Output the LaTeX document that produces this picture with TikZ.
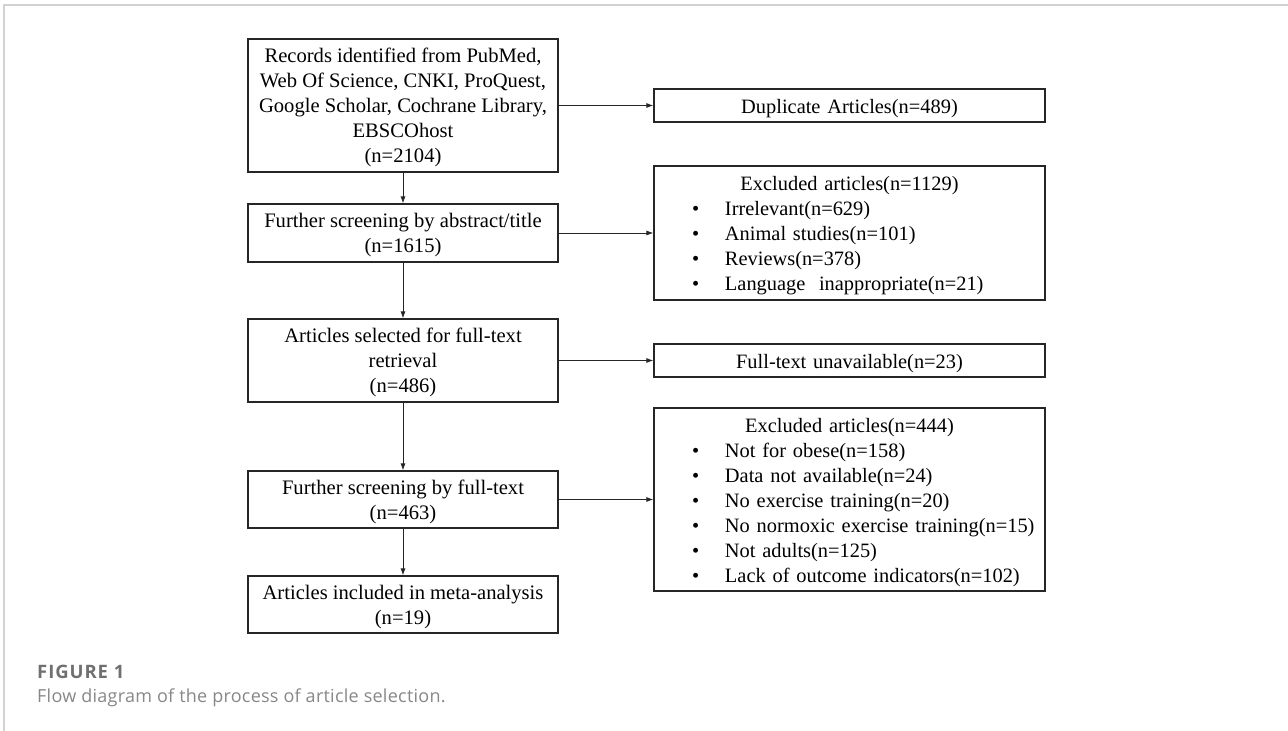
\documentclass[tikz,border=0pt]{standalone}
\usepackage{fontspec}
\setmainfont{Liberation Serif}
\newfontfamily\capfontsp[LetterSpace=1.5]{Open Sans}
\newfontfamily\figfont[LetterSpace=5]{Open Sans}
\usetikzlibrary{arrows.meta}
\definecolor{framegray}{HTML}{D2D2D2}
\definecolor{figgray}{HTML}{707070}
\definecolor{capgray}{HTML}{878787}
\newcommand{\bul}[1]{\par\noindent\hspace*{38pt}\makebox[33pt][l]{\textbullet}#1}
\newcommand{\hdr}[1]{\centering\rule{0pt}{20pt}#1\par}
\begin{document}
\begin{tikzpicture}[x=1pt, y=-1pt, >={Latex[length=7pt,width=5pt]},
		mainbox/.style={draw=black!85, line width=1.1pt, minimum width=310pt, align=center, inner sep=0pt, text depth=0pt, font=\fontsize{20.6}{25}\selectfont},
		sidebox/.style={draw=black!85, line width=1.1pt, text width=391pt, inner sep=0pt, align=left, font=\fontsize{20.4}{25}\selectfont},
		flow/.style={->, line width=0.9pt, black!85}]
	\useasboundingbox (0,0) rectangle (1288,731);
	% frame of the figure card
	\draw[framegray, line width=1.8pt] (4,731) -- (4,5) -- (1288,5);
	% left column
	\node[mainbox, minimum height=133pt] (src) at (403,105.5) {Records identified from PubMed,\\Web Of Science, CNKI, ProQuest,\\Google Scholar, Cochrane Library,\\EBSCOhost\\(n=2104)};
	\node[mainbox, minimum height=58pt] (screen) at (403,233) {Further screening by abstract/title\\(n=1615)};
	\node[mainbox, minimum height=83pt] (retr) at (403,360.5) {Articles selected for full-text\\retrieval\\(n=486)};
	\node[mainbox, minimum height=57pt] (full) at (403,499.5) {Further screening by full-text\\(n=463)};
	\node[mainbox, minimum height=57pt] (incl) at (403,604.5) {Articles included in meta-analysis\\(n=19)};
	% right column
	\node[sidebox, minimum height=33pt] (dup) at (849.5,105.5) {\hdr{Duplicate Articles(n=489)}};
	\node[sidebox, minimum height=134pt] (exa) at (849.5,233) {\hdr{Excluded articles(n=1129)}\raggedright
		\bul{Irrelevant(n=629)}\bul{Animal studies(n=101)}\bul{Reviews(n=378)}\bul{Language~~inappropriate(n=21)}\par};
	\node[sidebox, minimum height=33pt] (unav) at (849.5,360.5) {\hdr{Full-text unavailable(n=23)}};
	\node[sidebox, minimum height=183pt] (exb) at (849.5,499.5) {\hdr{Excluded articles(n=444)}\raggedright
		\bul{Not for obese(n=158)}\bul{Data not available(n=24)}\bul{No exercise training(n=20)}\bul{No normoxic exercise training(n=15)}\bul{Not adults(n=125)}\bul{Lack of outcome indicators(n=102)}\par};
	% connectors
	\foreach \a/\b in {src/screen, screen/retr, retr/full, full/incl}
		\draw[flow] (\a.south) -- (\b.north);
	\foreach \a/\b in {src/dup, screen/exa, retr/unav, full/exb}
		\draw[flow] (\a.east) -- (\b.west);
	% caption
	\node[anchor=base west, inner sep=0pt, font=\figfont\bfseries\fontsize{18.5}{22}\selectfont, text=figgray] (figno) at (37,678) {FIGURE 1};
	\node[anchor=base west, inner sep=0pt, font=\capfontsp\fontsize{18}{22}\selectfont, text=capgray] (captxt) at (37,702) {Flow diagram of the process of article selection.};
\end{tikzpicture}
\end{document}
